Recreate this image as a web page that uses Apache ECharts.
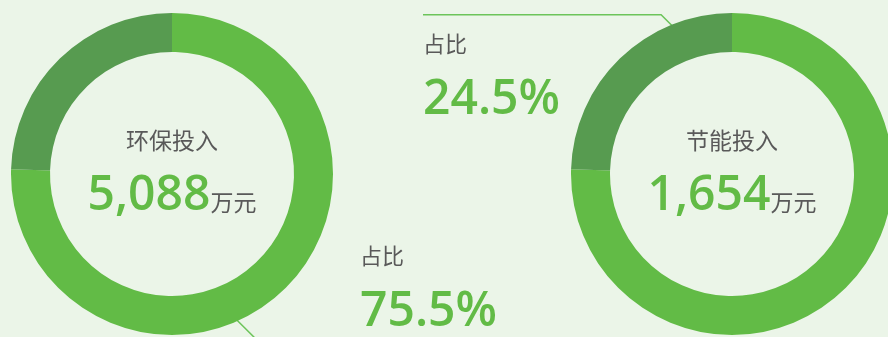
<!DOCTYPE html>
<html>
<head>
<meta charset="utf-8">
<style>
  html, body { margin: 0; padding: 0; background: #ebf5e8; }
  #chart { width: 888px; height: 337px; }
</style>
<script src="https://cdn.jsdelivr.net/npm/echarts@6/dist/echarts.min.js"></script>
</head>
<body>
<div id="chart"></div>
<script>
// Investment split, in 万元
const categories = ['环保投入', '节能投入'];
const investValues = [5088, 1654];
const sliceColors = ['#62bb46', '#579b50'];
const unitText = '万元';
const shareText = '占比';

const total = investValues.reduce((a, b) => a + b, 0);
const fmtNum = v => v.toLocaleString('en-US');
const sharePct = v => (v / total * 100).toFixed(1) + '%';

// ring geometry
const centers = [[172, 174], [732, 174]];
const ringRadius = [122, 161];
const LINE_COLOR = '#6cc45a';
const GRAY = '#595959';
const GREEN = '#62bb46';
const CJK = '"Noto Sans CJK SC", "Noto Sans", sans-serif';
const NUM = '"Open Sans", "Noto Sans", sans-serif';
const NUM_WEIGHT = 600;

// label anchors for each ring: where the share label sits and how its leader runs
const shareLabelPos = [
  { x: 360, y: 238 },
  { x: 423, y: 26 }
];
function leaderPoints(ringIdx) {
  const [cx, cy] = centers[ringIdx];
  if (ringIdx === 0) {
    // from the lower-right rim of the ring, down and right, then along under the label
    const a = 24 * Math.PI / 180, r = 160;
    const s = [cx + r * Math.sin(a), cy + r * Math.cos(a)];
    const b = [s[0] + 24, s[1] + 24];
    return [s, b, [shareLabelPos[0].x + 140, b[1]]];
  }
  // from inside the dark arc, up and left, then along above the label
  const a = -17 * Math.PI / 180, r = 133;
  const s = [cx + r * Math.sin(a), cy - r * Math.cos(a)];
  const b = [s[0] - 32, s[1] - 32];
  return [s, b, [shareLabelPos[1].x, b[1]]];
}

const shareRich = {
  t: { fontSize: 22, fontFamily: CJK, color: GRAY, lineHeight: 36 },
  v: { fontSize: 48, fontFamily: NUM, fontWeight: NUM_WEIGHT, color: GREEN, lineHeight: 76 }
};

// which slice carries the share label on each ring
const labelledSlice = [0, 1];

const series = centers.map((c, ringIdx) => ({
  type: 'pie',
  center: c,
  radius: ringRadius,
  startAngle: 90,
  clockwise: true,
  silent: true,
  avoidLabelOverlap: false,
  animation: false,
  label: {
    show: false,
    position: 'outside',
    formatter: p => '{t|' + shareText + '}\n{v|' + sharePct(p.value) + '}',
    rich: shareRich
  },
  labelLine: { show: false, lineStyle: { color: LINE_COLOR, width: 1.5 } },
  labelLayout: p => {
    if (p.dataIndex !== labelledSlice[ringIdx]) return {};
    return {
      x: shareLabelPos[ringIdx].x,
      y: shareLabelPos[ringIdx].y,
      align: 'left',
      verticalAlign: 'top',
      labelLinePoints: leaderPoints(ringIdx)
    };
  },
  data: categories.map((name, i) => ({
    name,
    value: investValues[i],
    itemStyle: { color: sliceColors[i] },
    label: { show: i === labelledSlice[ringIdx] },
    labelLine: { show: i === labelledSlice[ringIdx] }
  }))
}));

// centre captions: category name, amount and unit
const captions = categories.map((name, i) => ({
  type: 'text',
  x: centers[i][0],
  y: centers[i][1] - 52,
  silent: true,
  style: {
    text: '{n|' + name + '}\n{v|' + fmtNum(investValues[i]) + '}{u|' + unitText + '}',
    align: 'center',
    verticalAlign: 'top',
    rich: {
      n: { fontSize: 23, fontFamily: CJK, fill: GRAY, lineHeight: 36 },
      v: { fontSize: 48, fontFamily: NUM, fontWeight: NUM_WEIGHT, fill: GREEN, lineHeight: 76 },
      u: { fontSize: 23, fontFamily: CJK, fill: GRAY, lineHeight: 76, padding: [12, 0, 0, 0] }
    }
  }
}));

const chart = echarts.init(document.getElementById('chart'), null, { renderer: 'canvas' });
chart.setOption({
  backgroundColor: '#ebf5e8',
  animation: false,
  series,
  graphic: captions
});
</script>
</body>
</html>
